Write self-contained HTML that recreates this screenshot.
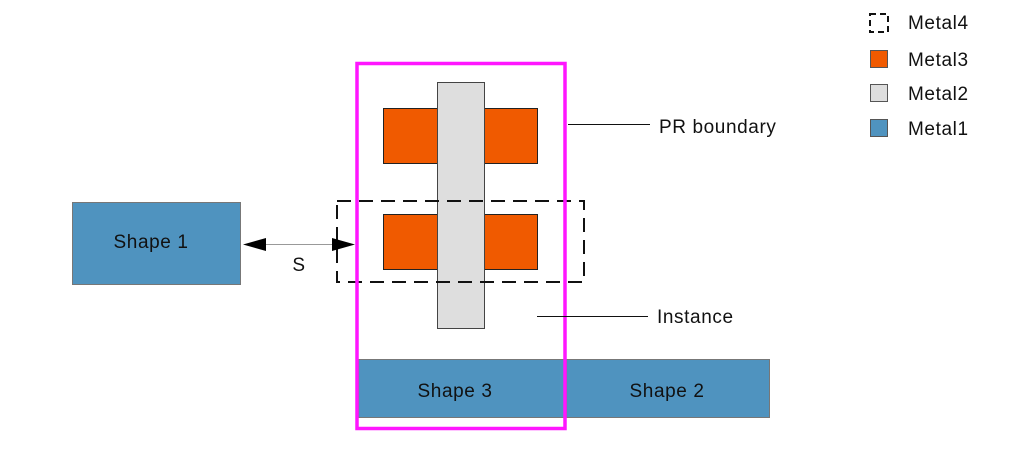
<!DOCTYPE html>
<html><head><meta charset="utf-8"><style>
html,body{margin:0;padding:0;background:#fff;width:1013px;height:453px;overflow:hidden}
text{font-family:"Liberation Sans",sans-serif;fill:#111;font-size:19px;letter-spacing:0.6px}
</style></head><body>
<svg width="1013" height="453" viewBox="0 0 1013 453" xmlns="http://www.w3.org/2000/svg">
<rect x="72.5" y="202.5" width="168" height="82" fill="#4f93bf" stroke="#777" stroke-width="1"/>
<text x="151" y="248" text-anchor="middle">Shape 1</text>
<rect x="358.5" y="359.5" width="208" height="58" fill="#4f93bf" stroke="#777" stroke-width="1"/>
<rect x="566.5" y="359.5" width="203" height="58" fill="#4f93bf" stroke="#777" stroke-width="1"/>
<text x="455" y="397" text-anchor="middle">Shape 3</text>
<text x="667" y="397" text-anchor="middle">Shape 2</text>
<rect x="383.5" y="108.5" width="154" height="55" fill="#f05a00" stroke="#222" stroke-width="1"/>
<rect x="383.5" y="214.5" width="154" height="55" fill="#f05a00" stroke="#222" stroke-width="1"/>
<rect x="437.5" y="82.5" width="47" height="246" fill="#dedede" stroke="#444" stroke-width="1"/>
<rect x="337" y="201" width="247" height="81" fill="none" stroke="#111" stroke-width="2" stroke-dasharray="14,8"/>
<rect x="357" y="63.5" width="208" height="365" fill="none" stroke="#ff16ff" stroke-width="3.5"/>
<line x1="258" y1="244.5" x2="338" y2="244.5" stroke="#999" stroke-width="1"/>
<polygon points="243,244.5 266,238 266,251" fill="#000"/>
<polygon points="355,244.5 332,238 332,251" fill="#000"/>
<text x="299" y="271" text-anchor="middle">S</text>
<line x1="568" y1="124.5" x2="650" y2="124.5" stroke="#111" stroke-width="1"/>
<text x="659" y="133">PR boundary</text>
<line x1="537" y1="316.5" x2="648" y2="316.5" stroke="#111" stroke-width="1"/>
<text x="657" y="323">Instance</text>
<rect x="870" y="14" width="18" height="18" fill="none" stroke="#111" stroke-width="2" stroke-dasharray="6,4"/>
<text x="908" y="29">Metal4</text>
<rect x="870.5" y="50.5" width="17" height="17" fill="#f05a00" stroke="#555" stroke-width="1"/>
<text x="908" y="66">Metal3</text>
<rect x="870.5" y="84.5" width="17" height="17" fill="#dedede" stroke="#555" stroke-width="1"/>
<text x="908" y="100">Metal2</text>
<rect x="870.5" y="119.5" width="17" height="17" fill="#4f93bf" stroke="#555" stroke-width="1"/>
<text x="908" y="135">Metal1</text>
</svg>
</body></html>
